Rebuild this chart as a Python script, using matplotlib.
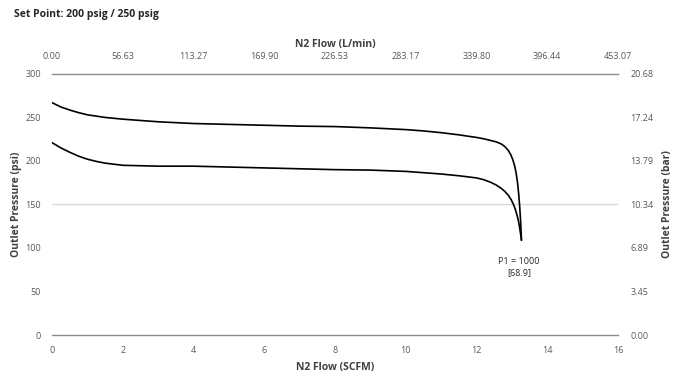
import numpy as np
import matplotlib
matplotlib.use("Agg")
import matplotlib.pyplot as plt

# ============================================
# DATA
# ============================================

flow_hi = [0, 0.25, 0.5, 0.75, 1, 1.25, 1.5, 2, 2.5, 3, 4, 5, 6, 7, 8, 9, 10,
           10.5, 11, 11.5, 12, 12.2, 12.4, 12.55, 12.7, 12.8, 12.9, 12.97, 13.03,
           13.08, 13.12, 13.16, 13.19, 13.22, 13.25, 13.27]
psi_hi = [267, 262, 258.5, 255.5, 253, 251.5, 250, 248, 246.5, 245, 243, 242, 241,
          240, 239.5, 238, 236, 234.5, 232.5, 230, 227, 225.5, 223.5, 222, 219.5,
          216.5, 212, 207, 201, 194, 186, 175, 163, 148, 128, 110]

flow_lo = [0, 0.25, 0.5, 0.75, 1, 1.25, 1.5, 2, 2.5, 3, 4, 5, 6, 7, 8, 9, 10,
           10.5, 11, 11.5, 12, 12.2, 12.4, 12.55, 12.7, 12.8, 12.9, 12.98, 13.05,
           13.1, 13.15, 13.19, 13.22, 13.25, 13.27]
psi_lo = [221, 215, 210, 205.5, 202, 199.5, 197.5, 195, 194.5, 194, 194, 193,
          192, 191, 190, 189.5, 188, 186.5, 185, 183, 180.5, 178.5, 175.5, 172.5,
          168.5, 165, 160.5, 155.5, 149.5, 144, 137, 130, 123, 115, 109]

scfm_ticks = [0, 2, 4, 6, 8, 10, 12, 14, 16]
lpm_labels = ["0.00", "56.63", "113.27", "169.90", "226.53", "283.17", "339.80", "396.44", "453.07"]
psi_ticks = [0, 50, 100, 150, 200, 250, 300]
bar_labels = ["0.00", "3.45", "6.89", "10.34", "13.79", "17.24", "20.68"]

plt.rcParams["font.family"] = ["Open Sans", "DejaVu Sans"]
tick_col = "#595959"
lab_col = "#404040"

fig = plt.figure(figsize=(6.73, 3.79), dpi=100)
ax = fig.add_axes([0.0773, 0.116, 0.841, 0.689])

ax.plot(flow_hi, psi_hi, color="black", lw=1.2, solid_joinstyle="round")
ax.plot(flow_lo, psi_lo, color="black", lw=1.2, solid_joinstyle="round")

ax.set_xlim(0, 16)
ax.set_ylim(0, 300)
ax.set_xticks(scfm_ticks)
ax.set_yticks(psi_ticks)
ax.axhline(150, color="#d9d9d9", lw=1, zorder=0)
for s in ["left", "right"]:
    ax.spines[s].set_visible(False)
for s in ["top", "bottom"]:
    ax.spines[s].set_color("#8c8c8c")
    ax.spines[s].set_linewidth(1)
ax.tick_params(length=0, labelsize=6.5, labelcolor=tick_col)
ax.tick_params(axis="y", pad=8)
ax.tick_params(axis="x", pad=8)
ax.set_xlabel("N2 Flow (SCFM)", fontsize=7.5, fontweight="bold", color=lab_col, labelpad=5)
ax.set_ylabel("Outlet Pressure (psi)", fontsize=7.5, fontweight="bold", color=lab_col, labelpad=2)

ax.text(13.2, 90, "P1 = 1000\n[68.9]", ha="center", va="top", fontsize=6.5,
        color="#262626", linespacing=1.3)

# secondary axes: bar on right, L/min on top
axr = ax.twinx()
axr.set_ylim(0, 300)
axr.set_yticks(psi_ticks)
axr.set_yticklabels(bar_labels)
axr.tick_params(length=0, labelsize=6.5, labelcolor=tick_col, pad=9)
axr.set_ylabel("Outlet Pressure (bar)", fontsize=7.5, fontweight="bold", color=lab_col, labelpad=6)

axt = ax.twiny()
axt.set_xlim(0, 16)
axt.set_xticks(scfm_ticks)
axt.set_xticklabels(lpm_labels)
axt.tick_params(length=0, labelsize=6.5, labelcolor=tick_col, pad=9)
axt.set_xlabel("N2 Flow (L/min)", fontsize=7.5, fontweight="bold", color=lab_col, labelpad=4)

for a in (axr, axt):
    for s in a.spines.values():
        s.set_visible(False)

fig.text(0.021, 0.962, "Set Point: 200 psig / 250 psig", fontsize=7.5,
         fontweight="bold", color="#262626", va="center")

fig.savefig("out.png", dpi=100)
